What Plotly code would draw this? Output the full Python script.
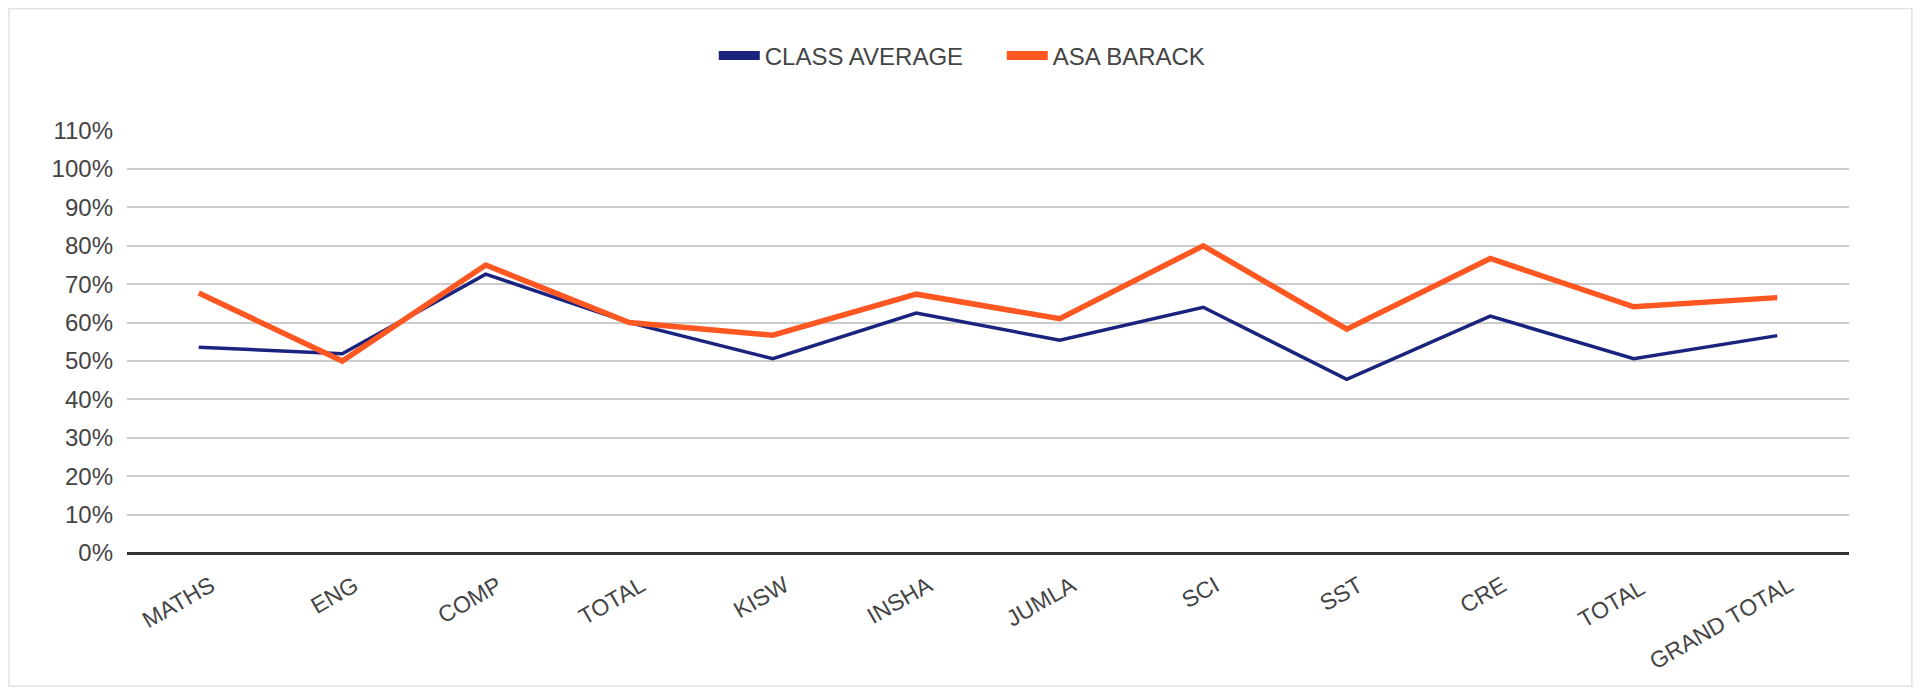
import plotly.graph_objects as go

categories = ["MATHS", "ENG", "COMP", "TOTAL", "KISW", "INSHA", "JUMLA",
              "SCI", "SST", "CRE", "TOTAL ", "GRAND TOTAL"]
class_average = [0.536, 0.519, 0.726, 0.600, 0.506, 0.625, 0.554,
                 0.640, 0.452, 0.617, 0.506, 0.566]
asa_barack = [0.677, 0.500, 0.750, 0.600, 0.567, 0.674, 0.610,
              0.800, 0.583, 0.767, 0.641, 0.665]
y_ticks = [i / 10 for i in range(12)]
y_tick_labels = [f"{i * 10}%" for i in range(12)]

BLUE = "#1a237e"
ORANGE = "#ff5722"
TEXT = "#444444"

fig = go.Figure()
fig.add_trace(go.Scatter(x=categories, y=class_average, mode="lines",
                         line=dict(color=BLUE, width=3.5), name="CLASS AVERAGE",
                         showlegend=False))
fig.add_trace(go.Scatter(x=categories, y=asa_barack, mode="lines",
                         line=dict(color=ORANGE, width=5.5), name="ASA BARACK",
                         showlegend=False))
# legend-only entries with thick swatches
fig.add_trace(go.Scatter(x=[None], y=[None], mode="lines",
                         line=dict(color=BLUE, width=9), name="CLASS AVERAGE"))
fig.add_trace(go.Scatter(x=[None], y=[None], mode="lines",
                         line=dict(color=ORANGE, width=9), name="ASA BARACK"))

fig.update_layout(
    width=1905, height=685,
    margin=dict(l=119, r=64, t=122, b=140),
    paper_bgcolor="white", plot_bgcolor="white",
    font=dict(family="Liberation Sans, Arial, sans-serif", color=TEXT, size=23),
    legend=dict(orientation="h", x=0.508, xanchor="center", y=1.175, yanchor="middle",
                font=dict(size=24, color=TEXT), itemwidth=41,
                entrywidth=232, traceorder="normal"),
    shapes=[dict(type="rect", xref="paper", yref="paper",
                 x0=-0.0685, x1=1.0365, y0=-0.315, y1=1.287,
                 line=dict(color="#e3e3e3", width=1.5), layer="below")],
)
fig.update_xaxes(type="category", range=[-0.5, 11.5], showgrid=False, tickangle=-30,
                 tickfont=dict(size=23, color=TEXT), ticks="", ticklabelstandoff=14,
                 ticklabelshift=12, showline=False, zeroline=False)
fig.update_yaxes(range=[0, 1.1015], tickvals=y_ticks, ticktext=y_tick_labels,
                 showgrid=True, gridcolor="#cccccc", gridwidth=1.5,
                 zeroline=True, zerolinecolor="#333333", zerolinewidth=2.5,
                 tickfont=dict(size=24, color=TEXT), ticks="", ticklabelstandoff=13,
                 showline=False)

fig.write_html("out.html")
